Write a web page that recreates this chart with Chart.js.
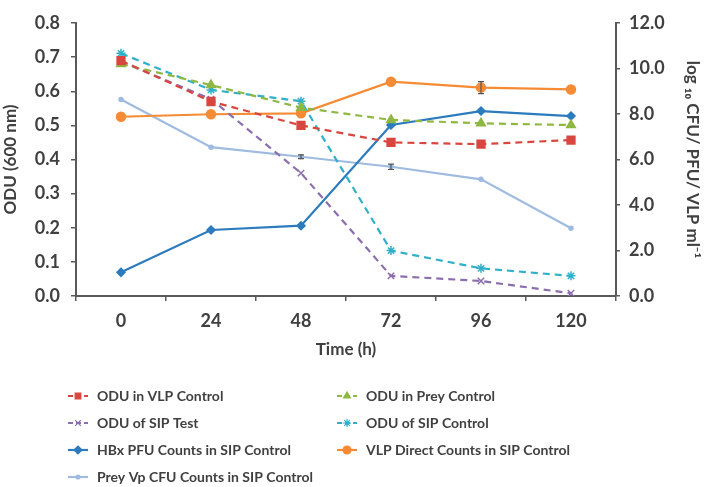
<!DOCTYPE html>
<html>
<head>
<meta charset="utf-8">
<script src="https://cdn.jsdelivr.net/npm/chart.js@4/dist/chart.umd.min.js"></script>
<style>
  html, body { margin: 0; padding: 0; background: #fff; }
  #wrap { width: 704px; height: 487px; position: relative; }
</style>
</head>
<body>
<div id="wrap"><canvas id="c" width="704" height="487"></canvas></div>
<script>
// ---- data ----
const times = ['0', '24', '48', '72', '96', '120'];
const oduVlpControl  = [0.690, 0.570, 0.500, 0.450, 0.445, 0.457];
const oduPreyControl = [0.680, 0.618, 0.552, 0.516, 0.506, 0.501];
const oduSipTest     = [0.687, 0.577, 0.360, 0.059, 0.044, 0.008];
const oduSipControl  = [0.711, 0.604, 0.571, 0.133, 0.081, 0.059];
const hbxPfuCounts   = [1.04, 2.90, 3.09, 7.52, 8.13, 7.91];
const vlpDirectCounts= [7.88, 7.99, 8.03, 9.42, 9.16, 9.08];
const preyVpCfuCounts= [8.64, 6.54, 6.12, 5.68, 5.13, 2.98];
const vlpDirectErr   = [0, 0, 0, 0, 0.26, 0];
const preyVpCfuErr   = [0, 0, 0.08, 0.12, 0, 0];
const leftTicks  = [0, 0.1, 0.2, 0.3, 0.4, 0.5, 0.6, 0.7, 0.8];
const rightTicks = [0, 2, 4, 6, 8, 10, 12];

const FONT = 'Lato, "Open Sans", sans-serif';
const AXIS = '#595959';
const TXT = '#404040';

const datasets = [
  { label: 'ODU in VLP Control', data: oduVlpControl, yAxisID: 'y',
    borderColor: '#d9463f', backgroundColor: '#d9463f', borderDash: [7, 5],
    pointStyle: 'rect', pointRadius: 5.5, col: 0, row: 0 },
  { label: 'ODU in Prey Control', data: oduPreyControl, yAxisID: 'y',
    borderColor: '#8fb843', backgroundColor: '#8fb843', borderDash: [7, 5],
    pointStyle: 'triangle', pointRadius: 5, col: 1, row: 0 },
  { label: 'ODU of SIP Test', data: oduSipTest, yAxisID: 'y',
    borderColor: '#8a6eae', backgroundColor: '#8a6eae', borderDash: [7, 5],
    pointStyle: 'crossRot', pointRadius: 4.5, col: 0, row: 1 },
  { label: 'ODU of SIP Control', data: oduSipControl, yAxisID: 'y',
    borderColor: '#2fb0c8', backgroundColor: '#2fb0c8', borderDash: [7, 5],
    pointStyle: 'star', pointRadius: 4.5, col: 1, row: 1 },
  { label: 'HBx PFU Counts in SIP Control', data: hbxPfuCounts, yAxisID: 'y1',
    borderColor: '#2c7bbd', backgroundColor: '#2c7bbd', borderDash: [],
    pointStyle: 'rectRot', pointRadius: 4, col: 0, row: 2 },
  { label: 'VLP Direct Counts in SIP Control', data: vlpDirectCounts, yAxisID: 'y1',
    borderColor: '#f58b35', backgroundColor: '#f58b35', borderDash: [],
    pointStyle: 'circle', pointRadius: 4.5, col: 1, row: 2, err: vlpDirectErr },
  { label: 'Prey Vp CFU Counts in SIP Control', data: preyVpCfuCounts, yAxisID: 'y1',
    borderColor: '#9fbbe0', backgroundColor: '#9fbbe0', borderDash: [],
    pointStyle: 'circle', pointRadius: 2, col: 0, row: 3, err: preyVpCfuErr }
].map(d => Object.assign({
  borderWidth: 2.2, pointBorderWidth: 1.5, pointBorderColor: d.borderColor,
  pointBackgroundColor: d.backgroundColor, fill: false, tension: 0
}, d));

const errorBars = {
  id: 'errorBars',
  afterDatasetsDraw(chart) {
    const ctx = chart.ctx;
    chart.data.datasets.forEach((ds, i) => {
      if (!ds.err) return;
      const meta = chart.getDatasetMeta(i);
      const sc = chart.scales[ds.yAxisID];
      ctx.save();
      ctx.strokeStyle = '#555';
      ctx.lineWidth = 1.2;
      ds.err.forEach((e, j) => {
        if (!e) return;
        const x = meta.data[j].x;
        const y1 = sc.getPixelForValue(ds.data[j] + e);
        const y2 = sc.getPixelForValue(ds.data[j] - e);
        ctx.beginPath();
        ctx.moveTo(x, y1); ctx.lineTo(x, y2);
        ctx.moveTo(x - 3, y1); ctx.lineTo(x + 3, y1);
        ctx.moveTo(x - 3, y2); ctx.lineTo(x + 3, y2);
        ctx.stroke();
      });
      ctx.restore();
    });
  }
};

const legendPlugin = {
  id: 'gridLegend',
  afterDraw(chart) {
    const ctx = chart.ctx;
    const colX = [68, 337];
    const rowY = [396, 423, 450, 477];
    ctx.save();
    chart.data.datasets.forEach(ds => {
      const x0 = colX[ds.col], y = rowY[ds.row];
      ctx.strokeStyle = ds.borderColor;
      ctx.lineWidth = 2.2;
      ctx.setLineDash(ds.borderDash.length ? [5, 3] : []);
      ctx.beginPath(); ctx.moveTo(x0, y); ctx.lineTo(x0 + 20, y); ctx.stroke();
      ctx.setLineDash([]);
      ctx.fillStyle = ds.backgroundColor;
      ctx.lineWidth = 1.2;
      Chart.helpers.drawPoint(ctx, {
        pointStyle: ds.pointStyle, radius: Math.min(ds.pointRadius, 4),
        rotation: 0, borderWidth: 1.2
      }, x0 + 10, y);
      ctx.fillStyle = TXT;
      ctx.font = 'bold 14px ' + FONT;
      ctx.textBaseline = 'middle';
      ctx.textAlign = 'left';
      ctx.fillText(ds.label, x0 + 29, y);
    });
    ctx.restore();
  }
};

new Chart(document.getElementById('c'), {
  type: 'line',
  data: { labels: times, datasets },
  plugins: [errorBars, legendPlugin],
  options: {
    responsive: false,
    animation: false,
    events: [],
    layout: { padding: { left: 0, right: 0, top: 23, bottom: 126 } },
    plugins: { legend: { display: false }, tooltip: { enabled: false } },
    scales: {
      x: {
        offset: true,
        grid: { offset: true, drawOnChartArea: false, drawTicks: true, tickLength: 5, color: AXIS, lineWidth: 1.5 },
        border: { display: true, color: AXIS, width: 2 },
        ticks: { color: TXT, font: { family: FONT, size: 18, weight: 'bold' }, padding: 9, maxRotation: 0 },
        title: { display: true, text: 'Time (h)', color: TXT, font: { family: FONT, size: 17, weight: 'bold' }, padding: { top: 2, bottom: 1 } },
        afterFit(s) { s.height = 65; }
      },
      y: {
        position: 'left', min: 0, max: 0.8,
        afterBuildTicks(s) { s.ticks = leftTicks.map(v => ({ value: v })); },
        grid: { drawOnChartArea: false, drawTicks: true, tickLength: 5, color: AXIS, lineWidth: 1.5 },
        border: { display: true, color: AXIS, width: 2 },
        ticks: { color: TXT, font: { family: FONT, size: 18, weight: 'bold' }, padding: 11, callback: v => Number(v).toFixed(1) },
        title: { display: true, text: 'ODU (600 nm)', color: TXT, font: { family: FONT, size: 17, weight: 'bold' }, padding: { top: 0, bottom: 1 } },
        afterFit(s) { s.width = 76; }
      },
      y1: {
        position: 'right', min: 0, max: 12,
        afterBuildTicks(s) { s.ticks = rightTicks.map(v => ({ value: v })); },
        grid: { drawOnChartArea: false, drawTicks: true, tickLength: 4, color: AXIS, lineWidth: 1.5 },
        border: { display: true, color: AXIS, width: 2 },
        ticks: { color: TXT, font: { family: FONT, size: 18, weight: 'bold' }, padding: 9, callback: v => Number(v).toFixed(1) },
        title: { display: true, text: 'log ₁₀ CFU/ PFU/ VLP ml⁻¹', color: TXT, font: { family: FONT, size: 17, weight: 'bold' }, padding: { top: 1, bottom: 3 } },
        afterFit(s) { s.width = 88; }
      }
    }
  }
});
</script>
</body>
</html>
